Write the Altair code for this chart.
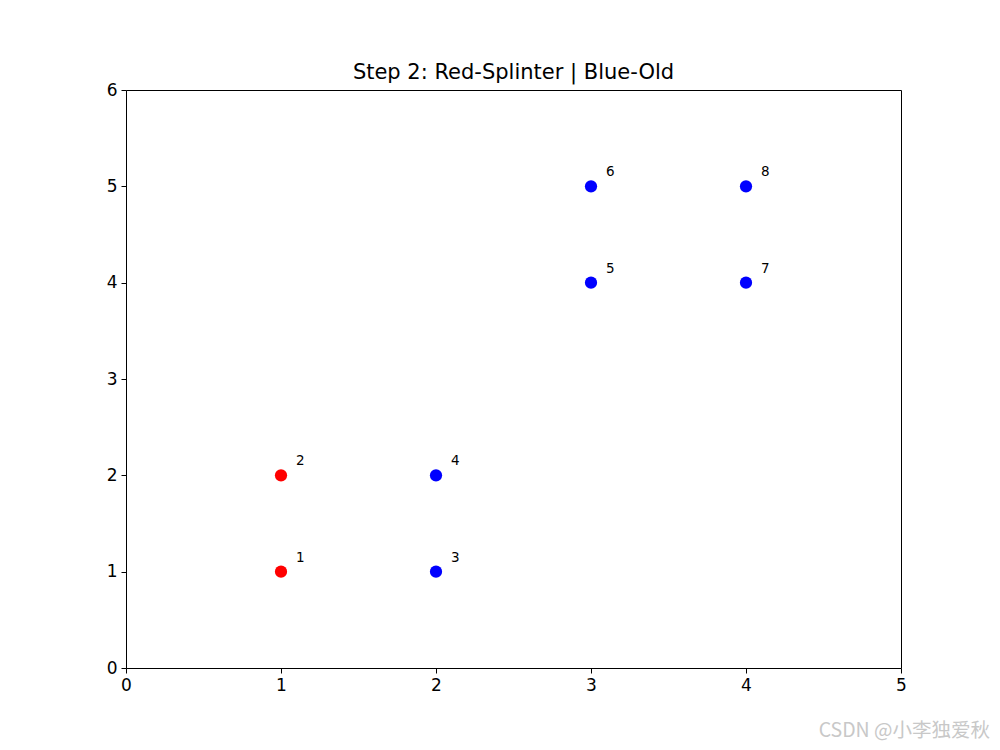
import altair as alt
import pandas as pd

xs = [1, 1, 2, 2, 3, 3, 4, 4]
ys = [1, 2, 1, 2, 4, 5, 4, 5]
labels = ["1", "2", "3", "4", "5", "6", "7", "8"]
groups = ["Red", "Red", "Blue", "Blue", "Blue", "Blue", "Blue", "Blue"]
title = "Step 2: Red-Splinter | Blue-Old"
watermark = "CSDN @小李独爱秋"

df = pd.DataFrame({"x": xs, "y": ys, "label": labels, "group": groups})

W, H = 775, 578

xscale = alt.Scale(domain=[0, 5], nice=False, zero=False)
yscale = alt.Scale(domain=[0, 6], nice=False, zero=False)

axis_common = dict(
    labelFont="DejaVu Sans", labelFontSize=17, labelColor="black",
    tickColor="black", tickSize=5, tickWidth=1, domain=False, grid=False,
    labelPadding=4, title=None, labelFlush=False,
)

base = alt.Chart(df)

points = base.mark_circle(size=150, opacity=1).encode(
    x=alt.X("x:Q", scale=xscale, axis=alt.Axis(values=[0, 1, 2, 3, 4, 5], format="d", **axis_common)),
    y=alt.Y("y:Q", scale=yscale, axis=alt.Axis(values=[0, 1, 2, 3, 4, 5, 6], format="d", **axis_common)),
    color=alt.Color("group:N", scale=alt.Scale(domain=["Red", "Blue"], range=["#ff0000", "#0000ff"]), legend=None),
)

texts = base.mark_text(align="left", baseline="middle", dx=15, dy=-14,
                       font="DejaVu Sans", fontSize=13.5, color="black").encode(
    x=alt.X("x:Q", scale=xscale),
    y=alt.Y("y:Q", scale=yscale),
    text="label:N",
)

wm = alt.Chart(pd.DataFrame({"t": [watermark]})).mark_text(
    align="right", baseline="middle", font="Noto Sans CJK SC", fontSize=19.5,
    color="#c8c8c8",
).encode(x=alt.value(864), y=alt.value(641), text="t:N")

chart = alt.layer(points, texts, wm).properties(
    width=W, height=H,
    title=alt.TitleParams(title, font="DejaVu Sans", fontSize=21, fontWeight="normal",
                          color="black", offset=3, dy=5),
    autosize=alt.AutoSizeParams(type="none"),
    padding={"left": 118, "top": 82, "right": 90, "bottom": 74},
    background="white",
).configure_view(stroke="black", strokeWidth=1)

chart.save("out.html", embed_options={"renderer": "svg", "actions": False})
